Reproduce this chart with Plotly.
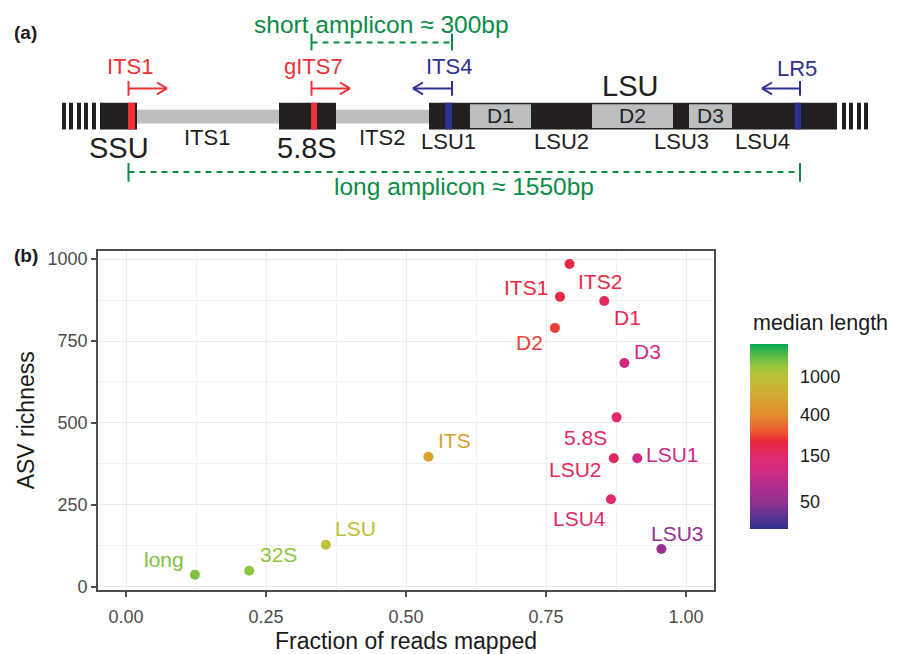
import plotly.graph_objects as go
import numpy as np
from plotly.colors import sample_colorscale

# ---------------- data (panel b) ----------------
regions = ["ITS2", "ITS1", "D1", "D2", "D3", "5.8S", "LSU2", "LSU1", "LSU4",
           "LSU3", "ITS", "LSU", "32S", "long"]
frac_mapped = [0.792, 0.775, 0.854, 0.766, 0.890, 0.876, 0.871, 0.913, 0.866,
               0.956, 0.540, 0.357, 0.220, 0.123]
asv_richness = [985, 885, 872, 790, 683, 517, 392, 392, 267, 115, 397, 128, 49, 37]
median_length = [195, 205, 175, 240, 110, 160, 175, 105, 160, 52, 560, 1000, 1350, 1450]

x_ticks = [0, 0.25, 0.5, 0.75, 1.0]
x_ticklabels = ["0.00", "0.25", "0.50", "0.75", "1.00"]
y_ticks = [0, 250, 500, 750, 1000]
cbar_ticks = [50, 150, 400, 1000]

# label offsets in pixels (dx right, dy down) - styling only
label_offsets = [(30, 17), (-34, -9), (23, 16), (-25, 15), (23, -11), (-31, 20),
                 (-38, 11), (35, -4), (-31, 19), (16, -16), (26, -16), (30, -16),
                 (29, -16), (-31, -15)]

W, H = 897, 654
FONT = "Liberation Sans, Arial, Helvetica, sans-serif"

cmin, cmax = 1.42, 3.344
colorscale = [
    [0.000, "#2E3192"], [0.068, "#5B3391"], [0.146, "#92318F"], [0.231, "#B22C8F"],
    [0.312, "#D02A85"], [0.395, "#E02A6E"], [0.473, "#E8283A"], [0.530, "#EC5A30"],
    [0.613, "#E48B2E"], [0.717, "#D6A833"], [0.821, "#BCC136"], [0.881, "#98C73D"],
    [0.951, "#4CB84A"], [1.000, "#00A651"],
]
logv = np.log10(median_length)
norm = [(v - cmin) / (cmax - cmin) for v in logv]
pt_colors = sample_colorscale(colorscale, norm)

fig = go.Figure()
fig.add_trace(go.Scatter(
    x=frac_mapped, y=asv_richness, mode="markers",
    marker=dict(size=10, color=logv, colorscale=colorscale, cmin=cmin, cmax=cmax,
                line=dict(width=0),
                colorbar=dict(
                    x=750 / W, xanchor="left", y=1 - 440.5 / H, yanchor="middle",
                    thickness=38, thicknessmode="pixels", len=185, lenmode="pixels",
                    outlinewidth=0, tickvals=list(np.log10(cbar_ticks)),
                    ticktext=[str(t) for t in cbar_ticks],
                    ticks="outside", ticklen=9, tickcolor="rgba(0,0,0,0)",
                    tickfont=dict(size=18, color="#1A1A1A", family=FONT),
                    xpad=0, ypad=0)),
    hoverinfo="text", text=regions, showlegend=False))

annotations = []
for r, x, y, c, (dx, dy) in zip(regions, frac_mapped, asv_richness, pt_colors, label_offsets):
    annotations.append(dict(x=x, y=y, xref="x", yref="y", text=r, showarrow=False,
                            xshift=dx, yshift=-dy, xanchor="center", yanchor="middle",
                            font=dict(size=21, color=c, family=FONT)))

# ---------------- panel a schematic ----------------
def px(x):
    return x / W


def py(y):
    return 1 - y / H


shapes = []


def rect(x0, x1, y0, y1, color):
    shapes.append(dict(type="rect", xref="paper", yref="paper", x0=px(x0), x1=px(x1),
                       y0=py(y1), y1=py(y0), fillcolor=color, line=dict(width=0),
                       layer="above"))


def seg(x0, y0, x1, y1, color, width=2, dash=None):
    d = dict(type="line", xref="paper", yref="paper", x0=px(x0), y0=py(y0),
             x1=px(x1), y1=py(y1), line=dict(color=color, width=width), layer="above")
    if dash:
        d["line"]["dash"] = dash
    shapes.append(d)


def text(x, y, s, size, color, bold=False, xanchor="center"):
    annotations.append(dict(x=px(x), y=py(y), xref="paper", yref="paper",
                            text=f"<b>{s}</b>" if bold else s, showarrow=False,
                            xanchor=xanchor, yanchor="middle",
                            font=dict(size=size, color=color, family=FONT)))


BLACK = "#231F20"
GREY = "#BCBEC0"
RED = "#EE3135"
BLUE = "#2E3192"
GREEN = "#0A8C47"

# schematic elements (pixel coordinates)
connectors = [(137, 279), (336, 429)]
blocks = [(100, 137), (279, 336), (429, 837)]
domains = [("D1", 470, 531), ("D2", 592, 673), ("D3", 689, 732)]
red_bands = [(128, 135), (311, 317)]
blue_bands = [(445, 452), (795, 801)]
hatch = [(62, 66), (69, 73), (77, 81), (84, 88), (92, 96),
         (842, 846), (849, 853), (857, 861), (864, 868)]

for a, b in connectors:
    rect(a, b, 110, 124, GREY)
for a, b in blocks:
    rect(a, b, 103, 130, BLACK)
for name, a, b in domains:
    rect(a, b, 104.5, 128.5, GREY)
    text((a + b) / 2, 116, name, 21, BLACK)
for a, b in red_bands:
    rect(a, b, 103, 130, RED)
for a, b in blue_bands:
    rect(a, b, 103, 130, BLUE)
for a, b in hatch:
    rect(a, b, 103, 130, BLACK)

# gene labels
text(119, 149, "SSU", 29, BLACK)
text(307, 149, "5.8S", 29, BLACK)
text(630, 86, "LSU", 29, BLACK)
for name, xc in [("ITS1", 207), ("ITS2", 382), ("LSU1", 448), ("LSU2", 561),
                 ("LSU3", 681), ("LSU4", 762)]:
    text(xc, 138 if name.startswith("ITS") else 142, name, 22, BLACK)


def primer(name, x_tick, x_tip, color, label_x, label_y):
    seg(x_tick, 81, x_tick, 96, color)
    seg(x_tick, 88.5, x_tip, 88.5, color)
    back = -10 if x_tip > x_tick else 10
    seg(x_tip, 88.5, x_tip + back, 82.5, color)
    seg(x_tip, 88.5, x_tip + back, 94.5, color)
    text(label_x, label_y, name, 22, color)


primer("ITS1", 128.5, 167, RED, 130, 66)
primer("gITS7", 311.5, 350, RED, 313, 66)
primer("ITS4", 452, 413, BLUE, 449, 66)
primer("LR5", 800, 762, BLUE, 797, 68)

# amplicons
seg(311.5, 42, 452, 42, GREEN, 2, "6px,5px")
seg(311.5, 33, 311.5, 50, GREEN, 2)
seg(452, 33, 452, 50, GREEN, 2)
text(381, 24, "short amplicon ≈ 300bp", 24.5, GREEN)

seg(128.5, 173, 800, 173, GREEN, 2, "6px,5px")
seg(128.5, 164, 128.5, 183, GREEN, 2)
seg(800, 164, 800, 183, GREEN, 2)
text(464, 188, "long amplicon ≈ 1550bp", 24.5, GREEN)

text(12, 32, "(a)", 19, "#1A1A1A", bold=True, xanchor="left")
text(12, 258, "(b)", 19, "#1A1A1A", bold=True, xanchor="left")
text(751, 326, "median length", 21.5, "#1A1A1A", xanchor="left")

axis_common = dict(showline=True, linecolor="#4D4D4D", linewidth=1.6, mirror=True,
                   ticks="outside", ticklen=5, tickwidth=1.6, tickcolor="#4D4D4D",
                   tickfont=dict(size=18, color="#4D4D4D", family=FONT),
                   showgrid=True, gridcolor="#EBEBEE", gridwidth=1.4, zeroline=False)

fig.update_layout(
    width=W, height=H, margin=dict(l=0, r=0, t=0, b=0),
    paper_bgcolor="white", plot_bgcolor="white",
    font=dict(family=FONT),
    xaxis=dict(domain=[98 / W, 714 / W], range=[-0.05, 1.05], tickvals=x_ticks,
               ticktext=x_ticklabels, ticklabelstandoff=5,
               minor=dict(tickvals=[0.125, 0.375, 0.625, 0.875], showgrid=True,
                          gridcolor="#F2F2F4", gridwidth=0.8, ticks=""),
               title=dict(text="Fraction of reads mapped", standoff=9,
                          font=dict(size=23, color="#1A1A1A", family=FONT)),
               **axis_common),
    yaxis=dict(domain=[1 - 596 / H, 1 - 253 / H], range=[-9, 1025], tickvals=y_ticks,
               minor=dict(tickvals=[125, 375, 625, 875], showgrid=True,
                          gridcolor="#F2F2F4", gridwidth=0.8, ticks=""),
               title=dict(text="ASV richness", standoff=6,
                          font=dict(size=23, color="#1A1A1A", family=FONT)),
               **axis_common),
    shapes=shapes, annotations=annotations,
)

fig.write_html("out.html")
